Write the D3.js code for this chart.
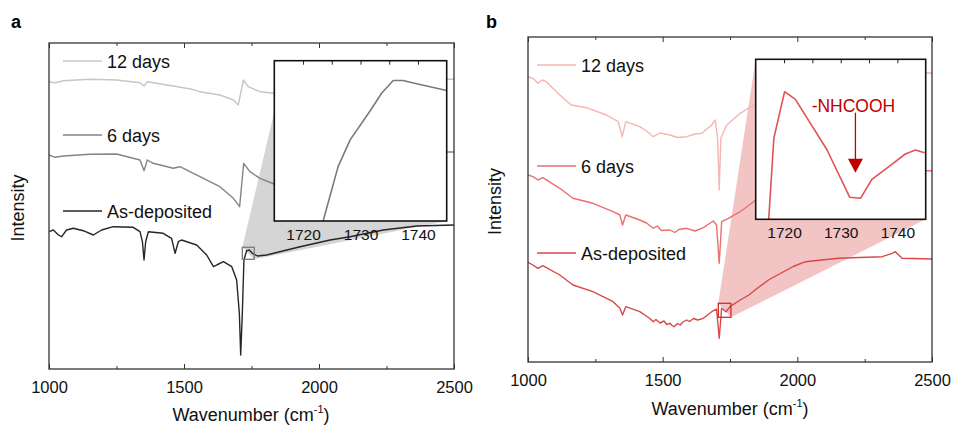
<!DOCTYPE html>
<html>
<head>
<meta charset="utf-8">
<script src="https://cdn.jsdelivr.net/npm/d3@7"></script>
<style>
  body { margin: 0; background: #fff; }
  svg { display: block; font-family: "Liberation Sans", Arial, sans-serif; }
</style>
</head>
<body>
<div id="chart"></div>
<script>
// tick values
var xTicks = [1000, 1500, 2000, 2500],
    xMinorTicks = [1250, 1750, 2250],
    insetTicks = [1720, 1730, 1740],
    insetMinorTicks = [1725, 1735];

var seriesLabels = ["12 days", "6 days", "As-deposited"];

// panel a spectra, [wavenumber, intensity a.u.]
var a12days = [[1000,287.3],[1022,286.3],[1053,288.3],[1152,289.7],[1250,289],[1337,286.3],[1352,283],
  [1364,287.3],[1460,283],[1525,280],[1559,277.3],[1633,274],[1683,269],[1701,264],[1720,289],[1738,282.3],
  [1781,277.3],[1834,275.7],[1950,279],[2150,285],[2350,288.5],[2475,289.7],[2500,289.7]];
var a6days = [[1000,214],[1022,211.7],[1053,213],[1152,214.7],[1250,215],[1337,209],[1352,198.3],[1364,209],
  [1386,205.7],[1460,200.7],[1485,202.3],[1559,192.3],[1633,182.3],[1683,170.7],[1706,162.3],[1721,205.7],
  [1744,197.3],[1781,190.7],[1834,185],[1950,189],[2150,201],[2350,212],[2475,217],[2500,217]];
var aAsDep = [[1000,137.3],[1016,139],[1035,134],[1047,132.3],[1065,139],[1090,140.7],[1127,138.3],[1164,134],
  [1195,139],[1238,142.3],[1312,141.7],[1337,137.3],[1346,127.3],[1352,109],[1358,127.3],[1368,137.3],
  [1423,135.7],[1454,130.7],[1467,115.7],[1479,127.3],[1491,129],[1547,124],[1584,114],[1609,102.3],
  [1621,104],[1646,107.3],[1677,102.3],[1695,89],[1705,55.7],[1710,14],[1716,55.7],[1722,109],[1732,118.3],
  [1742,119],[1753,115.7],[1772,113],[1806,114],[1930,122.3],[2041,129],[2115,132.3],[2238,139],
  [2362,143],[2500,144]];
var aInset = [[1722.5,-10],[1723.5,0],[1726.1,54.3],[1728.2,81],[1731.6,109.3],[1733.7,127.7],[1735.7,140.3],
  [1737.4,140.3],[1739.2,137.7],[1745,130.3]];

// panel b spectra
var b12days = [[1000,285.3],[1018,283.7],[1037,278.7],[1053,282],[1068,280.3],[1118,267],[1161,257],
  [1217,254.3],[1291,247],[1335,240.3],[1350,225.3],[1363,240.3],[1415,235.3],[1440,231],[1465,225.3],
  [1490,229],[1527,227],[1555,224.5],[1589,225.3],[1620,228],[1645,228.7],[1682,237],[1695,242],
  [1704,223.7],[1710,172],[1716,223.7],[1738,237],[1788,248.7],[1837,257],[1950,270],[2150,282],
  [2350,287],[2482,289],[2500,289]];
var b6days = [[1000,187],[1018,185.3],[1037,182],[1055,184.3],[1118,173.7],[1167,163.7],[1241,158.7],
  [1316,150.3],[1341,147],[1351,137],[1363,147],[1415,142],[1440,139],[1465,133.7],[1480,136],[1495,131.5],
  [1527,132],[1545,129.5],[1560,132.5],[1589,133.7],[1620,131],[1651,134.3],[1688,141],[1700,137],
  [1710,98.7],[1719,140.3],[1744,143.7],[1788,150.3],[1846,162],[1950,172],[2150,184],[2350,190],
  [2480,191.3],[2500,191.3]];
var bAsDep = [[1000,99.7],[1018,97],[1037,93.7],[1055,96.3],[1118,87],[1167,77],[1241,70.3],[1316,60.3],
  [1341,53.7],[1351,47],[1363,55.3],[1415,50.3],[1450,44],[1465,40.3],[1475,42.5],[1490,39],[1505,41],
  [1515,37.5],[1527,38.7],[1535,36.5],[1542,35.3],[1555,38.5],[1565,37],[1575,40],[1589,42],[1600,40.5],
  [1615,43.5],[1630,42],[1651,43.7],[1682,50.3],[1700,53],[1710,23.7],[1719,53.7],[1735,50.3],[1750,55.3],
  [1788,62],[1820,67],[1850,73.5],[1893,82],[1940,89],[1985,95.5],[2030,100.3],[2090,102],[2153,103.7],
  [2230,104.5],[2315,105.3],[2352,108.7],[2364,110.3],[2389,103.7],[2500,103]];
var bInset = [[1716.8,-20],[1717.3,0],[1718.2,81],[1720.1,127.6],[1722,120],[1727.6,69.3],[1731.6,22],
  [1733.5,21],[1735.5,40],[1738.5,52.6],[1741.4,65.3],[1743.2,69.3],[1744.8,66.6]];

// layout of the two panels
var panels = [
  {letter: "a", left: 49, top: 43, right: 454, bottom: 369, yMax: 326,
   series: [a12days, a6days, aAsDep], colors: ["#c6c6c6", "#858585", "#262626"],
   legendX: 63, legendY: [61, 135, 211], letterX: 11, letterY: 28, titleX: 251, titleY: 421, intensityX: 24,
   inset: {left: 274.3, top: 60.7, right: 446.7, bottom: 221, data: aInset, color: "#7a7a7a"},
   box: [1716, 1760, 109.7, 121.7], boxColor: "#7a7a7a", fill: "#d5d5d5", apexOffset: 12},
  {letter: "b", left: 528, top: 37, right: 932, bottom: 362, yMax: 325,
   series: [b12days, b6days, bAsDep], colors: ["#f6b4b4", "#ec6e6e", "#d84848"],
   legendX: 537, legendY: [65, 166, 253], letterX: 486, letterY: 28, titleX: 730, titleY: 415, intensityX: 501,
   inset: {left: 755.7, top: 59.3, right: 925.7, bottom: 219.3, data: bInset, color: "#e05454",
           note: {label: "-NHCOOH", x: 1732.6, from: 106.6, to: 46.6, textY: 113}},
   box: [1706.6, 1753.4, 44.7, 58.7], boxColor: "#d42a2a", fill: "#f2c4c4", apexOffset: 0}
];

var svg = d3.select("#chart").append("svg")
    .attr("width", 955)
    .attr("height", 428);

svg.append("rect").attr("width", 955).attr("height", 428).attr("fill", "#fff");

panels.forEach(function(p, i) {
    var x = d3.scaleLinear().domain([1000, 2500]).range([p.left, p.right]),
        y = d3.scaleLinear().domain([0, p.yMax]).range([p.bottom, p.top]),
        ins = p.inset,
        ix = d3.scaleLinear().domain([1715, 1745]).range([ins.left, ins.right]),
        iy = d3.scaleLinear().domain([0, 160]).range([ins.bottom, ins.top]);

    var g = svg.append("g");

    g.append("clipPath").attr("id", "clip" + i)
        .append("rect")
        .attr("x", p.left).attr("y", p.top)
        .attr("width", p.right - p.left).attr("height", p.bottom - p.top);

    // zoom wedge from the box to the inset
    var boxTL = [x(p.box[0]), y(p.box[3])],
        boxBR = [x(p.box[1]), y(p.box[2])];
    g.append("polygon")
        .attr("points", [boxTL, [ins.left + p.apexOffset, ins.top], [ins.right, ins.bottom], boxBR].join(" "))
        .attr("fill", p.fill);

    // spectra
    var line = d3.line()
        .x(function(d) { return x(d[0]); })
        .y(function(d) { return y(d[1]); });

    g.append("g").attr("clip-path", "url(#clip" + i + ")")
        .selectAll("path")
        .data(p.series)
        .enter()
        .append("path")
        .attr("d", line)
        .attr("fill", "none")
        .attr("stroke", function(d, k) { return p.colors[k]; })
        .attr("stroke-width", 1.4)
        .attr("stroke-linejoin", "round");

    g.append("rect")
        .attr("x", boxTL[0]).attr("y", boxTL[1])
        .attr("width", boxBR[0] - boxTL[0]).attr("height", boxBR[1] - boxTL[1])
        .attr("fill", "none").attr("stroke", p.boxColor).attr("stroke-width", 1.3);

    // axes, ticks pointing inward
    var bottom = g.append("g").attr("transform", "translate(0," + p.bottom + ")")
        .call(d3.axisBottom(x).tickValues(xTicks).tickSize(-5).tickPadding(12).tickFormat(d3.format("d")));
    g.append("g").attr("transform", "translate(0," + p.bottom + ")")
        .call(d3.axisBottom(x).tickValues(xMinorTicks).tickSize(-3).tickFormat(""));
    g.append("g").attr("transform", "translate(0," + p.top + ")")
        .call(d3.axisTop(x).tickValues(xTicks).tickSize(-5).tickFormat(""));
    g.append("g").attr("transform", "translate(0," + p.top + ")")
        .call(d3.axisTop(x).tickValues(xMinorTicks).tickSize(-3).tickFormat(""));
    g.selectAll(".domain").remove();
    g.selectAll(".tick line").attr("stroke", "#333");
    bottom.selectAll("text")
        .attr("font-family", "Liberation Sans, Arial, sans-serif")
        .attr("font-size", 16.5).attr("fill", "#111");

    g.append("rect")
        .attr("x", p.left).attr("y", p.top)
        .attr("width", p.right - p.left).attr("height", p.bottom - p.top)
        .attr("fill", "none").attr("stroke", "#333").attr("stroke-width", 1.3);

    // axis titles
    var title = g.append("text")
        .attr("x", p.titleX).attr("y", p.titleY)
        .attr("text-anchor", "middle")
        .attr("font-size", 18).attr("fill", "#111")
        .text("Wavenumber (cm");
    title.append("tspan").attr("font-size", 11).attr("dy", -8).text("-1");
    title.append("tspan").attr("dy", 8).text(")");

    g.append("text")
        .attr("transform", "translate(" + p.intensityX + "," + ((p.top + p.bottom) / 2 + 2) + ") rotate(-90)")
        .attr("text-anchor", "middle")
        .attr("font-size", 18).attr("fill", "#111")
        .text("Intensity");

    g.append("text")
        .attr("x", p.letterX).attr("y", p.letterY)
        .attr("font-size", 18).attr("font-weight", "bold").attr("fill", "#000")
        .text(p.letter);

    // legend
    var legend = g.selectAll(".legend")
        .data(seriesLabels)
        .enter()
        .append("g")
        .attr("transform", function(d, k) { return "translate(" + p.legendX + "," + p.legendY[k] + ")"; });
    legend.append("line")
        .attr("x1", 0).attr("x2", 39)
        .attr("stroke", function(d, k) { return p.colors[k]; })
        .attr("stroke-width", 1.6);
    legend.append("text")
        .attr("x", 44).attr("y", 6.5)
        .attr("font-size", 18).attr("fill", "#111")
        .text(function(d) { return d; });

    // inset
    var ig = g.append("g");
    ig.append("clipPath").attr("id", "iclip" + i)
        .append("rect")
        .attr("x", ins.left).attr("y", ins.top)
        .attr("width", ins.right - ins.left).attr("height", ins.bottom - ins.top);
    ig.append("rect")
        .attr("x", ins.left).attr("y", ins.top)
        .attr("width", ins.right - ins.left).attr("height", ins.bottom - ins.top)
        .attr("fill", "#fff");

    var iline = d3.line()
        .x(function(d) { return ix(d[0]); })
        .y(function(d) { return iy(d[1]); });
    ig.append("path")
        .datum(ins.data)
        .attr("clip-path", "url(#iclip" + i + ")")
        .attr("d", iline)
        .attr("fill", "none")
        .attr("stroke", ins.color)
        .attr("stroke-width", 1.6)
        .attr("stroke-linejoin", "round");

    ig.append("g").attr("transform", "translate(0," + ins.top + ")")
        .call(d3.axisTop(ix).tickValues(insetTicks.concat(insetMinorTicks)).tickSize(-4).tickFormat(""));
    var ibottom = ig.append("g").attr("transform", "translate(0," + ins.bottom + ")")
        .call(d3.axisBottom(ix).tickValues(insetTicks).tickSize(0).tickPadding(8).tickFormat(d3.format("d")));
    ig.selectAll(".domain").remove();
    ig.selectAll(".tick line").attr("stroke", "#222");
    ibottom.selectAll("text")
        .attr("font-family", "Liberation Sans, Arial, sans-serif")
        .attr("font-size", 15.5).attr("fill", "#111");

    ig.append("rect")
        .attr("x", ins.left).attr("y", ins.top)
        .attr("width", ins.right - ins.left).attr("height", ins.bottom - ins.top)
        .attr("fill", "none").attr("stroke", "#111").attr("stroke-width", 1.6);

    // annotation arrow
    if (ins.note) {
        var n = ins.note, ax = ix(n.x), tip = iy(n.to);
        ig.append("text")
            .attr("x", ax - 2).attr("y", iy(n.textY) + 6)
            .attr("text-anchor", "middle")
            .attr("font-size", 17.5).attr("fill", "#c00000")
            .text(n.label);
        ig.append("line")
            .attr("x1", ax).attr("x2", ax)
            .attr("y1", iy(n.from)).attr("y2", tip - 12)
            .attr("stroke", "#c00000").attr("stroke-width", 1.3);
        ig.append("polygon")
            .attr("points", [[ax - 7.5, tip - 14], [ax + 7.5, tip - 14], [ax, tip]].join(" "))
            .attr("fill", "#c00000");
    }
});
</script>
</body>
</html>
